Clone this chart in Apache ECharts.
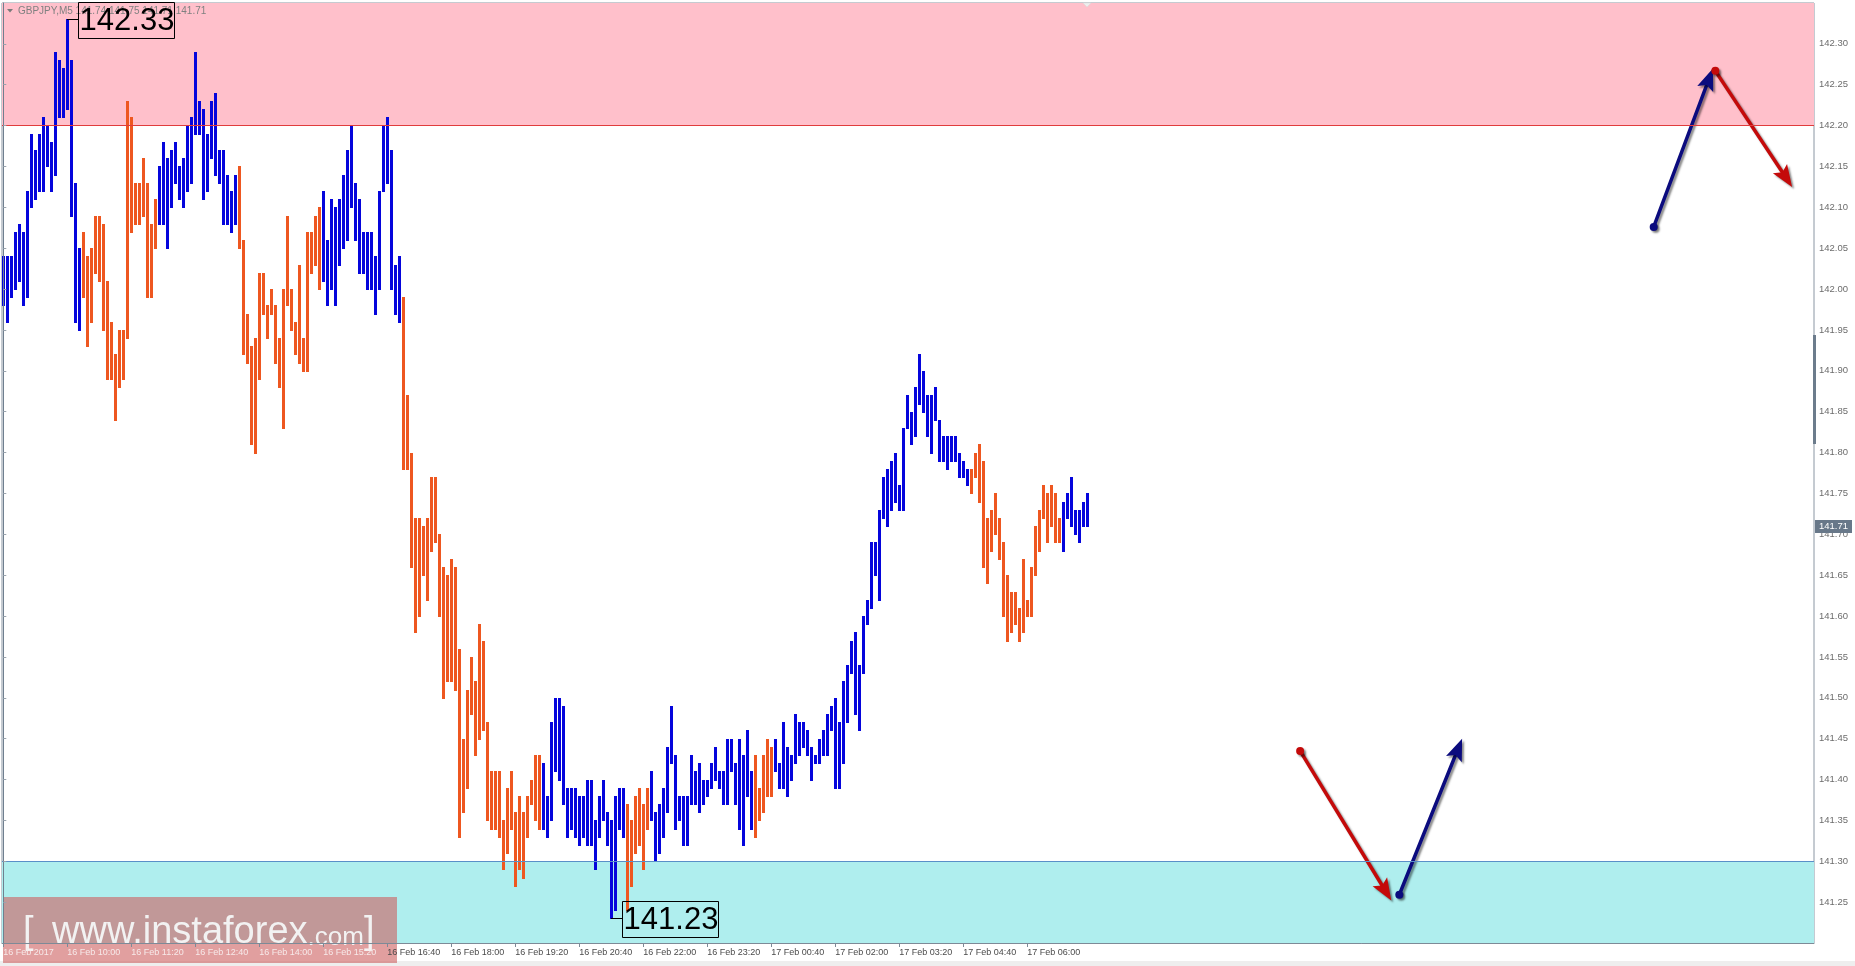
<!DOCTYPE html>
<html>
<head>
<meta charset="utf-8">
<script src="https://cdn.jsdelivr.net/npm/echarts@6/dist/echarts.min.js"></script>
<style>
html,body{margin:0;padding:0;background:#ffffff;}
#chart{width:1855px;height:966px;}
</style>
</head>
<body>
<div id="chart"></div>
<script>
// ---------------- data ----------------
const symbolName = 'GBPJPY,M5';
const lastOHLC = ['141.74', '141.75', '141.71', '141.71'];

const highs = [
  142.04,142.04,142.04,142.07,142.08,142.07,142.12,142.19,142.17,142.19,
  142.21,142.20,142.18,142.29,142.28,142.27,142.33,142.28,142.13,142.05,
  142.07,142.04,142.05,142.09,142.09,142.08,142.01,141.96,141.92,141.95,
  141.95,142.23,142.21,142.13,142.13,142.16,142.13,142.08,142.11,142.15,
  142.18,142.16,142.17,142.18,142.15,142.16,142.20,142.21,142.29,142.23,
  142.22,142.19,142.23,142.24,142.17,142.17,142.14,142.12,142.14,142.15,
  142.06,141.97,141.93,141.94,142.02,142.02,141.98,142.00,141.98,141.94,
  142.00,142.09,142.00,141.96,142.03,141.94,142.07,142.07,142.09,142.10,
  142.12,142.06,142.11,142.10,142.11,142.14,142.17,142.20,142.13,142.11,
  142.07,142.07,142.07,142.04,142.12,142.20,142.21,142.17,142.03,142.04,
  141.99,141.87,141.80,141.72,141.72,141.71,141.72,141.77,141.77,141.70,
  141.66,141.65,141.67,141.66,141.56,141.45,141.51,141.55,141.52,141.59,
  141.57,141.47,141.41,141.41,141.41,141.35,141.39,141.41,141.36,141.38,
  141.36,141.38,141.40,141.43,141.43,141.42,141.38,141.47,141.50,141.50,
  141.49,141.39,141.39,141.39,141.38,141.38,141.40,141.40,141.35,141.38,
  141.40,141.36,141.35,141.38,141.39,141.39,141.37,141.35,141.38,141.39,
  141.37,141.39,141.41,141.36,141.37,141.39,141.44,141.49,141.43,141.38,
  141.38,141.38,141.43,141.41,141.42,141.40,141.40,141.42,141.44,141.41,
  141.41,141.45,141.45,141.42,141.45,141.43,141.46,141.41,141.43,141.39,
  141.43,141.45,141.44,141.45,141.42,141.47,141.44,141.43,141.48,141.47,
  141.47,141.46,141.44,141.43,141.45,141.46,141.48,141.49,141.50,141.47,
  141.52,141.54,141.57,141.58,141.54,141.60,141.62,141.69,141.69,141.73,
  141.77,141.78,141.79,141.80,141.76,141.83,141.87,141.85,141.88,141.92,
  141.90,141.87,141.87,141.88,141.84,141.82,141.82,141.82,141.82,141.80,
  141.79,141.78,141.78,141.80,141.81,141.79,141.72,141.73,141.75,141.72,
  141.69,141.65,141.63,141.63,141.61,141.67,141.62,141.66,141.71,141.73,
  141.76,141.75,141.76,141.75,141.72,141.74,141.75,141.77,141.73,141.73,
  141.74,141.75
];

const lows = [
  141.98,141.96,141.99,142.00,142.01,141.98,141.99,142.10,142.11,142.12,
  142.12,142.15,142.12,142.14,142.21,142.21,142.22,142.09,141.96,141.95,
  141.99,141.93,141.96,142.02,142.01,141.95,141.89,141.89,141.84,141.88,
  141.89,141.94,142.07,142.08,142.08,142.09,141.99,141.99,142.05,142.08,
  142.08,142.05,142.10,142.13,142.11,142.10,142.12,142.13,142.19,142.19,
  142.11,142.12,142.16,142.14,142.13,142.08,142.08,142.07,142.08,142.05,
  141.92,141.91,141.81,141.80,141.89,141.97,141.94,141.97,141.91,141.88,
  141.83,141.98,141.95,141.92,141.91,141.90,141.90,142.02,142.03,142.00,
  142.01,141.98,142.00,141.98,142.03,142.05,142.06,142.10,142.06,142.02,
  142.02,142.00,142.00,141.97,142.00,142.12,142.13,142.00,141.97,141.96,
  141.78,141.78,141.66,141.58,141.60,141.65,141.62,141.68,141.69,141.60,
  141.50,141.52,141.52,141.51,141.33,141.36,141.39,141.48,141.43,141.45,
  141.46,141.35,141.34,141.34,141.33,141.29,141.31,141.34,141.27,141.29,
  141.28,141.33,141.37,141.35,141.34,141.34,141.33,141.35,141.41,141.40,
  141.37,141.33,141.34,141.33,141.32,141.33,141.32,141.32,141.29,141.33,
  141.35,141.32,141.23,141.24,141.34,141.33,141.24,141.27,141.31,141.32,
  141.29,141.34,141.35,141.30,141.31,141.33,141.36,141.42,141.34,141.35,
  141.32,141.32,141.37,141.37,141.36,141.37,141.38,141.39,141.40,141.39,
  141.37,141.37,141.41,141.37,141.34,141.32,141.38,141.34,141.33,141.35,
  141.36,141.38,141.38,141.41,141.39,141.39,141.38,141.40,141.42,141.43,
  141.44,141.43,141.40,141.42,141.42,141.43,141.43,141.46,141.39,141.39,
  141.42,141.47,141.53,141.48,141.46,141.53,141.59,141.61,141.65,141.62,
  141.72,141.71,141.73,141.74,141.73,141.73,141.83,141.81,141.82,141.86,
  141.85,141.82,141.80,141.84,141.79,141.79,141.78,141.79,141.79,141.77,
  141.77,141.76,141.75,141.77,141.74,141.66,141.64,141.68,141.70,141.67,
  141.60,141.57,141.58,141.59,141.57,141.58,141.60,141.60,141.65,141.68,
  141.72,141.69,141.71,141.69,141.69,141.68,141.72,141.71,141.70,141.69,
  141.71,141.71
];

// first bar of each swing leg; legs alternate up (blue) / down (orange)
const legStarts = [0, 20, 39, 59, 80, 100, 135, 156, 162, 188, 193, 242, 265];

const tickLabels = [
  '16 Feb 2017', '16 Feb 10:00', '16 Feb 11:20', '16 Feb 12:40', '16 Feb 14:00',
  '16 Feb 15:20', '16 Feb 16:40', '16 Feb 18:00', '16 Feb 19:20', '16 Feb 20:40',
  '16 Feb 22:00', '16 Feb 23:20', '17 Feb 00:40', '17 Feb 02:00', '17 Feb 03:20',
  '17 Feb 04:40', '17 Feb 06:00'
];
const barsPerTick = 16;

const priceMin = 141.20, priceMax = 142.35, priceStep = 0.05;
const resistanceZone = [142.20, 142.35];
const supportZone = [141.20, 141.30];

// [bar, price] of the marked extremes
const extremes = [[16, 142.33], [152, 141.23]];

// forecast arrows: [barFrom, priceFrom, barTo, priceTo, direction(0 up / 1 down)]
const arrows = [
  [412.6, 142.076, 427.4, 142.270, 0],
  [428.0, 142.267, 447.2, 142.125, 1],
  [324.2, 141.435, 347.0, 141.252, 1],
  [349.0, 141.259, 364.7, 141.450, 0]
];

const currentPrice = 141.71;

// ---------------- chart ----------------
const UP = '#0505dc', DOWN = '#ee5720';
const ARROW_UP = '#0b0b7e', ARROW_DOWN = '#c40a0a';
const FONT = '"Liberation Sans", Arial, sans-serif';

function legOf(i) {
  let k = 0;
  for (let j = 0; j < legStarts.length; j++) if (i >= legStarts[j]) k = j;
  return k % 2;
}
const barData = highs.map((h, i) => [i, h, lows[i], legOf(i)]);
const tickBars = tickLabels.map((_, k) => k * barsPerTick);

const xMin = -0.325, xMax = 452.675;

const chart = echarts.init(document.getElementById('chart'), null, {renderer: 'canvas'});

const option = {
  animation: false,
  backgroundColor: '#ffffff',
  textStyle: {fontFamily: FONT},
  grid: {
    left: 2, top: 3, right: 41, bottom: 23,
    show: true, backgroundColor: '#ffffff', borderColor: '#8a96a3', borderWidth: 1
  },
  xAxis: {
    type: 'value', min: xMin, max: xMax, z: 10,
    splitLine: {show: false},
    axisLine: {show: true, onZero: false, lineStyle: {color: '#7d8a97', width: 1}},
    axisTick: {show: true, length: 4, lineStyle: {color: '#7d8a97'}, customValues: tickBars},
    axisLabel: {
      customValues: tickBars,
      margin: 5,
      align: 'left',
      fontSize: 9,
      fontFamily: FONT,
      color: function (v) { return v <= 80 ? '#f7eaea' : '#4a4a4a'; },
      formatter: function (v) {
        const k = tickBars.indexOf(Math.round(v));
        return k >= 0 ? tickLabels[k] : '';
      }
    }
  },
  yAxis: {
    type: 'value', position: 'right', min: priceMin, max: priceMax, interval: priceStep, z: 10,
    splitLine: {show: false},
    axisLine: {show: true, lineStyle: {color: '#6f7f8f', width: 1}},
    axisTick: {show: true, length: 3, lineStyle: {color: '#9aa4ae'}},
    axisLabel: {
      margin: 5, fontSize: 9.5, fontFamily: FONT, color: '#6c6c6c',
      showMinLabel: false, showMaxLabel: false,
      formatter: function (v) { return v.toFixed(2); }
    }
  },
  series: [
    {
      type: 'custom', name: 'bars', silent: true, z: 3,
      data: barData,
      encode: {x: 0, y: [1, 2]},
      renderItem: function (params, api) {
        const i = api.value(0);
        const top = api.coord([i, api.value(1)]);
        const bot = api.coord([i, api.value(2)]);
        const x = Math.round(top[0] - 1.5);
        const y0 = Math.round(top[1]);
        const y1 = Math.round(bot[1]);
        return {
          type: 'rect',
          shape: {x: x, y: y0, width: 3, height: Math.max(1, y1 - y0 + 1)},
          style: {fill: api.value(3) ? DOWN : UP}
        };
      },
      markArea: {
        silent: true,
        data: [
          [{xAxis: xMin, yAxis: resistanceZone[0], itemStyle: {color: '#ffc0cb'}}, {xAxis: xMax, yAxis: resistanceZone[1]}],
          [{xAxis: xMin, yAxis: supportZone[0], itemStyle: {color: '#afeeee'}}, {xAxis: xMax, yAxis: supportZone[1]}]
        ]
      },
      markLine: {
        silent: true, symbol: 'none', animation: false,
        label: {show: false},
        data: [
          {yAxis: resistanceZone[0], lineStyle: {color: '#e03c3c', width: 1, type: 'solid'}},
          {yAxis: supportZone[1], lineStyle: {color: '#5a8fc8', width: 1, type: 'solid'}}
        ]
      }
    },
    {
      type: 'custom', name: 'arrows', silent: true, z: 4, clip: false,
      data: arrows,
      encode: {x: [0, 2], y: [1, 3]},
      renderItem: function (params, api) {
        const p0 = api.coord([api.value(0), api.value(1)]);
        const p1 = api.coord([api.value(2), api.value(3)]);
        const col = api.value(4) ? ARROW_DOWN : ARROW_UP;
        const dx = p1[0] - p0[0], dy = p1[1] - p0[1];
        const len = Math.sqrt(dx * dx + dy * dy);
        const ux = dx / len, uy = dy / len, nx = -uy, ny = ux;
        const L = 22, W = 8.5;
        const bx = p1[0] - ux * L, by = p1[1] - uy * L;
        const notch = [p1[0] - ux * L * 0.8, p1[1] - uy * L * 0.8];
        const sh = {shadowBlur: 2, shadowOffsetX: 2, shadowOffsetY: 2, shadowColor: 'rgba(0,0,0,0.45)'};
        return {
          type: 'group',
          children: [
            {type: 'line', shape: {x1: p0[0], y1: p0[1], x2: notch[0], y2: notch[1]},
              style: Object.assign({stroke: col, lineWidth: 3.5, lineCap: 'round'}, sh)},
            {type: 'polygon', shape: {points: [[p1[0], p1[1]], [bx + nx * W, by + ny * W], notch, [bx - nx * W, by - ny * W]]},
              style: Object.assign({fill: col}, sh)},
            {type: 'circle', shape: {cx: p0[0], cy: p0[1], r: 4}, style: Object.assign({fill: col}, sh)}
          ]
        };
      }
    }
  ]
};

chart.setOption(option);

// ---------------- overlays ----------------
const graphics = [];

// bottom light band
graphics.push({type: 'rect', z: 1, silent: true, shape: {x: 0, y: 961, width: 1855, height: 5}, style: {fill: '#eeeeee'}});

// header
graphics.push({type: 'polygon', z: 20, silent: true, shape: {points: [[7, 9], [13, 9], [10, 12.5]]}, style: {fill: '#7a7a7a'}});
graphics.push({type: 'text', z: 20, silent: true, x: 18, y: 11,
  style: {text: symbolName + ' ' + lastOHLC.join(' '), font: '10px ' + FONT, fill: '#808080', verticalAlign: 'middle', align: 'left'}});

// chart-shift marker at top
const lastPx = chart.convertToPixel({gridIndex: 0}, [highs.length - 1, priceMax]);
graphics.push({type: 'polygon', z: 20, silent: true,
  shape: {points: [[Math.round(lastPx[0]) - 4, 3], [Math.round(lastPx[0]) + 4, 3], [Math.round(lastPx[0]), 7]]},
  style: {fill: '#eeeeee', stroke: '#d8d8d8', lineWidth: 0.5}});

// extreme price labels
extremes.forEach(function (e) {
  const p = chart.convertToPixel({gridIndex: 0}, [e[0], e[1]]);
  const bx = Math.round(p[0]);
  const py = Math.round(p[1]) + 0.5;
  const left = bx + 11;
  graphics.push({type: 'line', z: 20, silent: true, shape: {x1: bx, y1: py, x2: left, y2: py}, style: {stroke: '#000', lineWidth: 1}});
  graphics.push({type: 'rect', z: 20, silent: true, shape: {x: left + 0.5, y: Math.round(py - 18) + 0.5, width: 96, height: 36},
    style: {fill: 'rgba(0,0,0,0)', stroke: '#000', lineWidth: 1}});
  graphics.push({type: 'text', z: 21, silent: true, x: left + 49, y: py + 1.5,
    style: {text: e[1].toFixed(2), font: '31px ' + FONT, fill: '#000', align: 'center', verticalAlign: 'middle'}});
});

// current price tag on the price scale
const cp = chart.convertToPixel({gridIndex: 0}, [0, currentPrice]);
graphics.push({type: 'rect', z: 30, silent: true, shape: {x: 1815, y: Math.round(cp[1]) - 6, width: 37, height: 13}, style: {fill: '#687889'}});
graphics.push({type: 'text', z: 31, silent: true, x: 1819, y: Math.round(cp[1]) + 0.5,
  style: {text: currentPrice.toFixed(2), font: '9.5px ' + FONT, fill: '#ffffff', verticalAlign: 'middle', align: 'left'}});

// price-scale thumb
graphics.push({type: 'rect', z: 30, silent: true, shape: {x: 1813, y: 335, width: 3, height: 109}, style: {fill: '#6c7c8c'}});

// watermark
graphics.push({type: 'rect', z: 5, silent: true, shape: {x: 3, y: 897, width: 394, height: 66}, style: {fill: 'rgba(205,95,95,0.6)'}});
graphics.push({type: 'text', z: 6, silent: true, x: 23, y: 933,
  style: {text: '[', font: '38px ' + FONT, fill: 'rgba(246,250,250,0.92)', verticalAlign: 'middle', align: 'left'}});
graphics.push({type: 'text', z: 6, silent: true, x: 364, y: 933,
  style: {text: ']', font: '38px ' + FONT, fill: 'rgba(246,250,250,0.92)', verticalAlign: 'middle', align: 'left'}});
graphics.push({type: 'text', z: 6, silent: true, x: 52, y: 933,
  style: {
    text: '{a|www.instaforex}{b|.com}',
    verticalAlign: 'middle', align: 'left',
    rich: {
      a: {font: '38px ' + FONT, fill: 'rgba(246,250,250,0.92)', verticalAlign: 'bottom'},
      b: {font: '26px ' + FONT, fill: 'rgba(246,250,250,0.92)', verticalAlign: 'bottom', padding: [0, 0, 1, 0]}
    }
  }});

chart.setOption({graphic: {elements: graphics}});
</script>
</body>
</html>
